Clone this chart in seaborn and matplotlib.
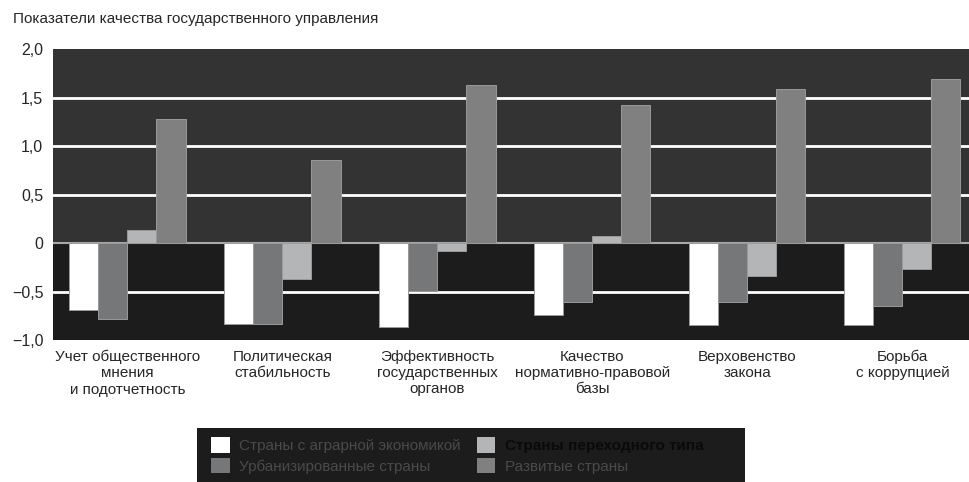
import pandas as pd
import matplotlib.pyplot as plt
import seaborn as sns
from matplotlib.patches import Rectangle, Patch

categories = ['Учет общественного\nмнения\nи подотчетность',
              'Политическая\nстабильность',
              'Эффективность\nгосударственных\nорганов',
              'Качество\nнормативно-правовой\nбазы',
              'Верховенство\nзакона',
              'Борьба\nс коррупцией']
series = ['Страны с аграрной экономикой', 'Урбанизированные страны',
          'Страны переходного типа', 'Развитые страны']
agrarian = [-0.69, -0.83, -0.87, -0.74, -0.85, -0.85]
urbanized = [-0.78, -0.84, -0.49, -0.61, -0.61, -0.65]
transition = [0.13, -0.37, -0.08, 0.07, -0.34, -0.27]
developed = [1.28, 0.86, 1.63, 1.42, 1.59, 1.69]
yticks = [2.0, 1.5, 1.0, 0.5, 0.0, -0.5, -1.0]
ytick_labels = ['2,0', '1,5', '1,0', '0,5', '0', '\u22120,5', '\u22121,0']
colors = ['#ffffff', '#767779', '#b4b5b7', '#808080']

rows = []
for name, vals in zip(series, [agrarian, urbanized, transition, developed]):
    for cat, v in zip(categories, vals):
        rows.append({'cat': cat, 'series': name, 'value': v})
df = pd.DataFrame(rows)

sns.set_style('white')
plt.rcParams['font.family'] = ['Liberation Sans Narrow', 'Liberation Sans', 'DejaVu Sans']

fig = plt.figure(figsize=(9.69, 4.82), dpi=100)
ax = fig.add_axes([0.0547, 0.2946, 0.9453, 0.6034])
ax.set_facecolor('#333333')
ax.axhspan(-1.0, 0.0, color='#1c1c1c', zorder=0)
for y in [1.5, 1.0, 0.5, -0.5]:
    ax.axhline(y, color='white', linewidth=2, zorder=1)
ax.axhline(0, color='#a8a8a8', linewidth=1.5, zorder=1)

sns.barplot(data=df, x='cat', y='value', hue='series', hue_order=series,
            order=categories, palette=colors, width=0.75, gap=0,
            edgecolor='#9a9a9a', linewidth=0.7, legend=False, ax=ax, zorder=2)

ax.set_xlim(-0.48, 5.43)
ax.set_ylim(-1.0, 2.0)
ax.set_yticks(yticks)
ax.set_yticklabels(ytick_labels, fontsize=11.5)
ax.set_xticks(range(len(categories)))
ax.set_xticklabels(categories, fontsize=11, linespacing=1.2)
ax.tick_params(axis='both', length=0, pad=7)
ax.set_xlabel('')
ax.set_ylabel('')
for s in ax.spines.values():
    s.set_visible(False)

fig.text(0.013, 0.96, 'Показатели качества государственного управления',
         fontsize=11, va='center', ha='left')

# legend box
fig.patches.append(Rectangle((0.2033, 0.0), 0.566, 0.112, transform=fig.transFigure,
                             facecolor='#1c1c1c', edgecolor='none', zorder=0))
handles = [Patch(facecolor=c, edgecolor='none') for c in colors]
leg = fig.legend(handles, series, ncol=2, loc='upper left',
                 bbox_to_anchor=(0.207, 0.115), frameon=False, fontsize=11,
                 handlelength=1.2, handleheight=1.2, handletextpad=0.6,
                 columnspacing=1.1, labelspacing=0.3, borderpad=0.2)
for i, t in enumerate(leg.get_texts()):
    if i == 2:
        t.set_color('#0a0a0a')
        t.set_fontweight('bold')
    else:
        t.set_color('#4a4a4a')

fig.savefig('out.png', dpi=100)
